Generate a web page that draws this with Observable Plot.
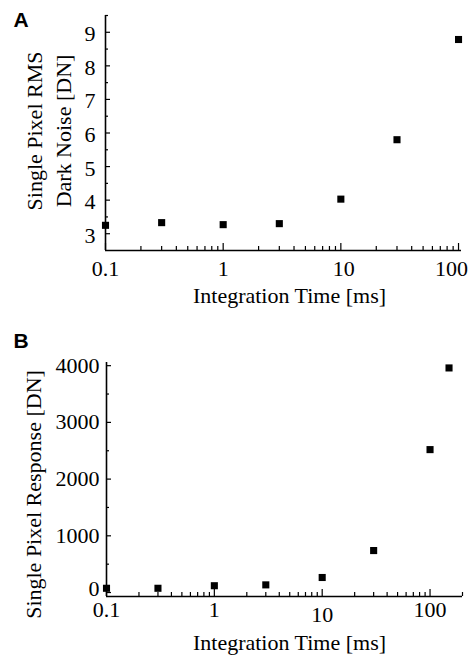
<!DOCTYPE html>
<html>
<head>
<meta charset="utf-8">
<script src="https://cdn.jsdelivr.net/npm/d3@7"></script>
<script src="https://cdn.jsdelivr.net/npm/@observablehq/plot@0.6"></script>
<style>
  html, body { margin: 0; padding: 0; background: #fff; }
  #chart { width: 469px; height: 655px; position: relative; overflow: hidden; }
  #chart svg { display: block; }
</style>
</head>
<body>
<div id="chart"></div>
<script>
// ---- Panel A data: dark noise vs integration time ----
const timeA = [0.1, 0.3, 1, 3, 10, 30, 100];
const noiseA = [3.25, 3.33, 3.27, 3.30, 4.03, 5.80, 8.785];

// ---- Panel B data: pixel response vs integration time ----
const timeB = [0.1, 0.3, 1, 3, 10, 30, 100, 150];
const responseB = [75, 75, 120, 135, 265, 740, 2520, 3960];

// ---- Axis ticks / labels ----
const xMajor = [0.1, 1, 10, 100];
const xMajorLabels = ["0.1", "1", "10", "100"];
const xMinorA = [0.2, 0.3, 0.4, 0.5, 0.6, 0.7, 0.8, 0.9, 2, 3, 4, 5, 6, 7, 8, 9, 20, 30, 40, 50, 60, 70, 80, 90];
const xMinorB = [0.2, 0.3, 0.4, 0.5, 0.6, 0.7, 0.8, 0.9, 2, 3, 4, 5, 6, 7, 8, 9, 20, 30, 40, 50, 60, 70, 80, 90, 200];
const yMajorA = [3, 4, 5, 6, 7, 8, 9];
const yMajorALabels = ["3", "4", "5", "6", "7", "8", "9"];
const yMinorA = [3.5, 4.5, 5.5, 6.5, 7.5, 8.5, 9.5];
const yMajorB = [0, 1000, 2000, 3000, 4000];
const yMajorBLabels = ["0", "1000", "2000", "3000", "4000"];
const yMinorB = [500, 1500, 2500, 3500];

const xDomainA = [0.1, 106];
const yDomainA = [2.5, 9.5];
const xDomainB = [0.1, 200];
const yDomainB = [-70, 4056];

const xTitle = "Integration Time [ms]";
const yTitleA = "Single Pixel RMS\nDark Noise [DN]";
const yTitleB = "Single Pixel Response [DN]";

const serif = "'Liberation Serif', 'Times New Roman', serif";
const sans = "'Liberation Sans', Arial, sans-serif";

function lab(ticks, labels) { return d => labels[ticks.indexOf(d)]; }

// per-label nudges (label text is read from the arrays above)
function xLabelAxes(o) {
  const groups = d3.groups(xMajor, d => JSON.stringify(o.xNudge[d] || [0, 0]));
  return groups.map(([k, ticks]) => {
    const [dx, dy] = JSON.parse(k);
    return Plot.axisX(ticks, {tickSize: 0, tickPadding: o.xPad + dy, dx, tickFormat: lab(xMajor, xMajorLabels), label: null});
  });
}
function yLabelAxes(o) {
  const groups = d3.groups(o.yMajor, d => (o.yNudge[d] || 0));
  return groups.map(([dy, ticks]) =>
    Plot.axisY(ticks, {tickSize: 0, tickPadding: o.yPad, dy: o.yLabDy + dy, tickFormat: lab(o.yMajor, o.yMajorLabels), label: null}));
}

function panel(o) {
  const fw = 469 - o.ml - o.mr;      // frame width
  const fh = o.height - o.mt - o.mb; // frame height
  // inward ticks: tick marks inset so only the part next to the axis line remains
  const xTicks = (vals, len) => Plot.tickX(vals, {x: d => d, insetTop: fh - len, stroke: "#000", strokeWidth: 1.2});
  const yTicks = (vals, len) => Plot.tickY(vals, {y: d => d, insetRight: fw - len, stroke: "#000", strokeWidth: 1.2});
  return Plot.plot({
    width: 469,
    height: o.height,
    marginTop: o.mt, marginBottom: o.mb, marginLeft: o.ml, marginRight: o.mr,
    style: {fontFamily: serif, fontSize: "22px", color: "#000", background: "#fff", overflow: "visible"},
    x: {type: "log", domain: o.xDomain},
    y: {type: "linear", domain: o.yDomain},
    marks: [
      // axis lines
      Plot.ruleX([o.xDomain[0]], {stroke: "#000", strokeWidth: 1.6}),
      Plot.ruleY([o.yDomain[0]], {stroke: "#000", strokeWidth: 1.6}),
      // inward ticks
      xTicks(xMajor, 7),
      xTicks(o.xMinor, 4),
      yTicks(o.yMajor, 5),
      yTicks(o.yMinor, 3),
      // tick labels
      ...xLabelAxes(o),
      ...yLabelAxes(o),
      // axis titles
      Plot.text([xTitle], {frameAnchor: "bottom", text: d => d, dx: o.xtDx, dy: o.xtDy, fontSize: 22, lineAnchor: "middle"}),
      Plot.text([o.yTitle], {frameAnchor: "left", text: d => d, rotate: -90, dx: o.ytDx, dy: o.ytDy, fontSize: 22, lineHeight: 1.32, lineAnchor: "middle", textAnchor: "middle"}),
      // panel letter
      Plot.text([o.letter], {frameAnchor: "top-left", text: d => d, dx: o.lDx, dy: o.lDy, fontFamily: sans, fontWeight: "bold", fontSize: 21, textAnchor: "start", lineAnchor: "top"}),
      // data
      Plot.dot(o.xs, {x: d => d, y: (d, i) => o.ys[i], symbol: "square", r: 4, fill: "#000", stroke: null})
    ]
  });
}

const A = panel({
  height: 310, mt: 15, mb: 60, ml: 105, mr: 8,
  xDomain: xDomainA, yDomain: yDomainA,
  xMinor: xMinorA, yMajor: yMajorA, yMajorLabels: yMajorALabels, yMinor: yMinorA,
  xPad: 10, yPad: 10, yLabDy: 2,
  xNudge: {10: [3, 0], 100: [-7, 0]}, yNudge: {},
  xtDx: 6, xtDy: 45, yTitle: yTitleA, ytDx: -58, ytDy: -2,
  letter: "A", lDx: -92, lDy: -3,
  xs: timeA, ys: noiseA
});

const B = panel({
  height: 345, mt: 52, mb: 59, ml: 106, mr: 7,
  xDomain: xDomainB, yDomain: yDomainB,
  xMinor: xMinorB, yMajor: yMajorB, yMajorLabels: yMajorBLabels, yMinor: yMinorB,
  xPad: 5, yPad: 7, yLabDy: 0,
  xNudge: {10: [0, 5]}, yNudge: {0: -4},
  xtDx: 5, xtDy: 46, yTitle: yTitleB, ytDx: -75, ytDy: 15,
  letter: "B", lDx: -93, lDy: -29,
  xs: timeB, ys: responseB
});

const chart = document.getElementById("chart");
chart.appendChild(A);
chart.appendChild(B);
</script>
</body>
</html>
